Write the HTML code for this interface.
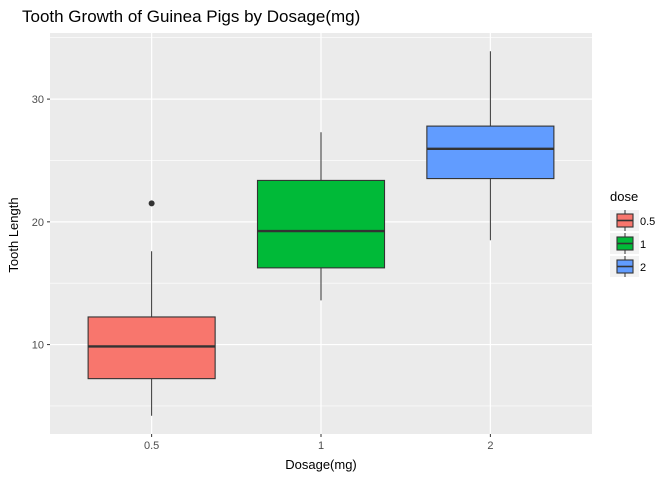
<!DOCTYPE html>
<html><head><meta charset="utf-8"><style>
body{margin:0;background:#fff;font-family:"Liberation Sans",sans-serif;}
</style></head><body>
<svg id="c" width="672" height="480" xmlns="http://www.w3.org/2000/svg">
<rect width="672" height="480" fill="#fff"/>
<text x="22" y="22" font-size="17" fill="#000">Tooth Growth of Guinea Pigs by Dosage(mg)</text>
<rect x="50" y="33" width="542" height="401" fill="#ebebeb"/>
<g id="grid"></g><g id="boxes"></g><g id="axes"></g>
<text x="321" y="469" font-size="13" text-anchor="middle" fill="#000">Dosage(mg)</text>
<text transform="translate(18,235) rotate(-90)" font-size="13" text-anchor="middle" fill="#000">Tooth Length</text>
<g id="legend"></g>
</svg>
<script>
const categories=["0.5","1","2"];
const mins=[4.2,13.6,18.5];
const q1s=[7.225,16.25,23.525];
const medians=[9.85,19.25,25.95];
const q3s=[12.25,23.375,27.8];
const maxs=[17.6,27.3,33.9];
const outliers=[[21.5],[],[]];
const colors=["#F8766D","#00BA38","#619CFF"];
const yTicks=[10,20,30];
const yMinor=[5,15,25,35];
const NS="http://www.w3.org/2000/svg";
const L=50,R=592,T=33,B=434,ymin=2.715,ymax=35.385;
const y=v=>B-(v-ymin)/(ymax-ymin)*(B-T);
const expand=0.6;
const step=(R-L)/(categories.length-1+2*expand);
const x=i=>L+step*(i+expand);
function mk(p,t,a){const e=document.createElementNS(NS,t);for(const k in a)e.setAttribute(k,a[k]);document.getElementById(p).appendChild(e);return e;}
yMinor.forEach(v=>{if(y(v)>T&&y(v)<B){const e=mk('grid','line',{x1:L,x2:R,y1:y(v),y2:y(v),stroke:'#fff','stroke-width':0.6});

}});
yTicks.forEach(v=>{const e=mk('grid','line',{x1:L,x2:R,y1:y(v),y2:y(v),stroke:'#fff','stroke-width':1.2});


const t=mk('axes','text',{x:L-6,y:y(v)+4,'font-size':11,fill:'#4d4d4d','text-anchor':'end'});t.textContent=v;


mk('axes','line',{x1:L-3,x2:L,y1:y(v),y2:y(v),stroke:'#333'});});
categories.forEach((c,i)=>{const e=mk('grid','line',{x1:x(i),x2:x(i),y1:T,y2:B,stroke:'#fff','stroke-width':1.2});


mk('axes','line',{x1:x(i),x2:x(i),y1:B,y2:B+3,stroke:'#333'});
const t=mk('axes','text',{x:x(i),y:B+15,'font-size':11,fill:'#4d4d4d','text-anchor':'middle'});t.textContent=c;


const w=step*0.75,bx=x(i)-w/2;
const wh=mk('boxes','line',{x1:x(i),x2:x(i),y1:y(mins[i]),y2:y(maxs[i]),stroke:'#333','stroke-width':1});


const b=mk('boxes','rect',{x:bx,y:y(q3s[i]),width:w,height:y(q1s[i])-y(q3s[i]),fill:colors[i],stroke:'#333','stroke-width':1.1});


const m=mk('boxes','line',{x1:bx,x2:bx+w,y1:y(medians[i]),y2:y(medians[i]),stroke:'#333','stroke-width':2.4});


outliers[i].forEach(o=>{const p=mk('boxes','circle',{cx:x(i),cy:y(o),r:3,fill:'#333'});

});});
const lt=mk('legend','text',{x:610,y:201,'font-size':13,fill:'#000'});lt.textContent='dose';


categories.forEach((c,i)=>{const ky=210+i*23;
mk('legend','rect',{x:610,y:ky,width:29,height:21,fill:'#f2f2f2'});
mk('legend','line',{x1:625,x2:625,y1:ky,y2:ky+21,stroke:'#333'});
const r=mk('legend','rect',{x:617,y:ky+4,width:16,height:13,fill:colors[i],stroke:'#333','stroke-width':1.1});


mk('legend','line',{x1:617,x2:633,y1:ky+10.5,y2:ky+10.5,stroke:'#333','stroke-width':1.6});
const t=mk('legend','text',{x:640,y:ky+15,'font-size':11,fill:'#000'});t.textContent=c;

});
</script>
</body></html>
